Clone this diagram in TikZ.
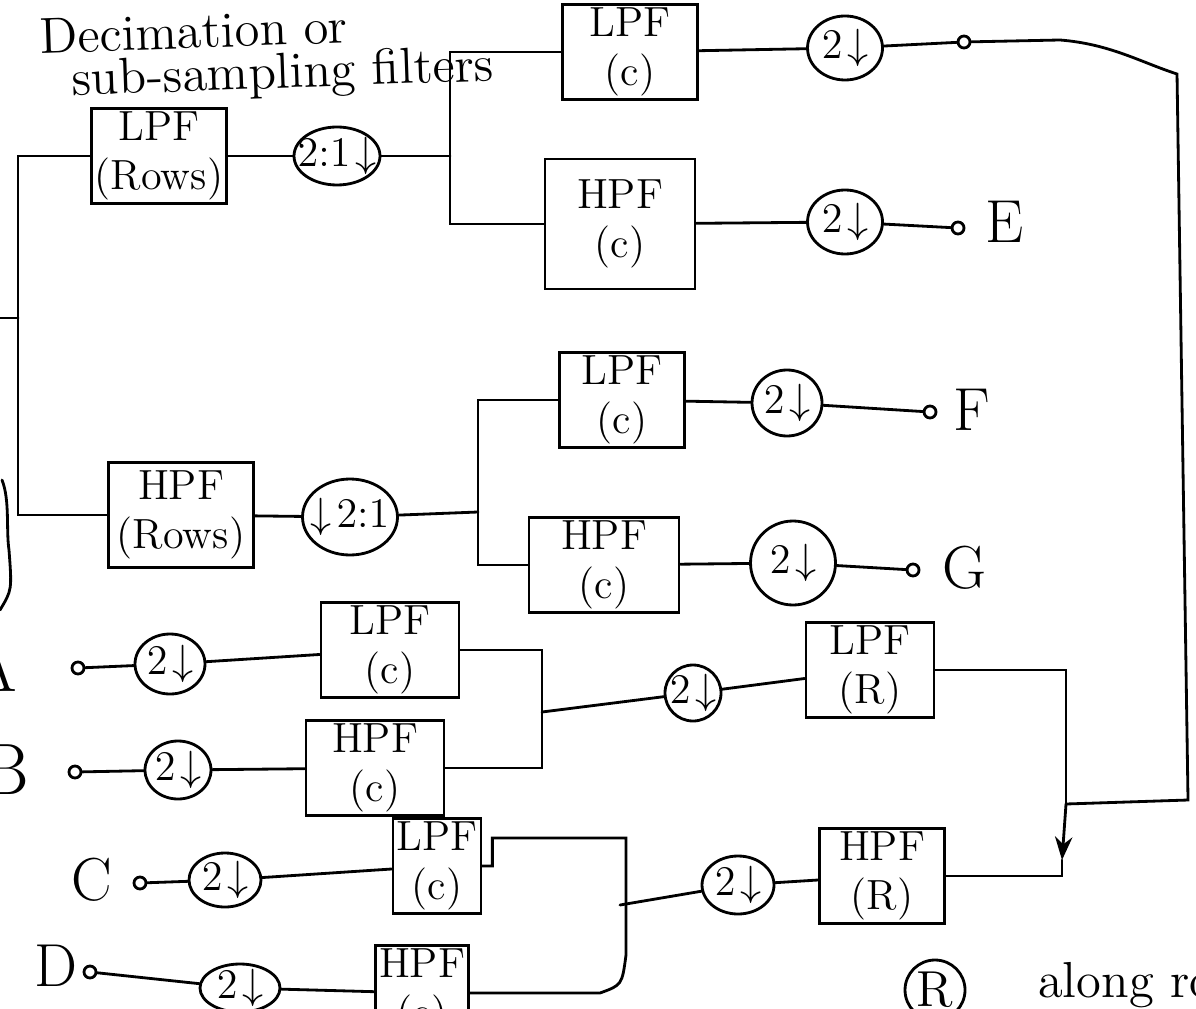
\documentclass[tikz,border=0pt]{standalone}
\usetikzlibrary{arrows.meta}
\usetikzlibrary{shapes.geometric}

\begin{document}
\begin{tikzpicture}[thick, line cap=round,
        filt/.style={draw, align=center, inner sep=1pt, font=\large},
        dec/.style={draw, ellipse, inner sep=-3pt, font=\large},
        term/.style={draw, circle, inner sep=0pt, minimum size=0.12cm},
        lab/.style={font=\LARGE}]
        \useasboundingbox (0,0) rectangle (11.96,-10.08);
        \node [font=\Large, rotate=2, align=left, inner sep=0pt] (title) at (2.67,-0.55) {Decimation or\\[-0.4em]\hspace{0.6em}sub-sampling filters};
        \node [filt, minimum width=1.27cm, minimum height=0.92cm] (lpfrows) at (1.59,-1.56) {LPF\\(Rows)};
        \node [dec, minimum width=0.86cm, minimum height=0.58cm] (dtop) at (3.37,-1.56) {$2{:}1\!\downarrow$};
        \node [filt, minimum width=1.35cm, minimum height=0.95cm] (lpfca) at (6.30,-0.52) {LPF\\(c)};
        \node [filt, minimum width=1.50cm, minimum height=1.30cm] (hpfca) at (6.20,-2.24) {HPF\\(c)};
        \node [dec, minimum width=0.75cm, minimum height=0.64cm] (da) at (8.45,-0.48) {$2\!\downarrow$};
        \node [dec, minimum width=0.75cm, minimum height=0.64cm] (db) at (8.45,-2.22) {$2\!\downarrow$};
        \node [term] (ta) at (9.64,-0.42) {};
        \node [term] (tb) at (9.58,-2.28) {};
        \node [lab] (le) at (10.05,-2.22) {E};
        \node [filt, minimum width=1.45cm, minimum height=1.05cm] (hpfrows) at (1.81,-5.15) {HPF\\(Rows)};
        \node [dec, minimum width=0.95cm, minimum height=0.76cm] (dmid) at (3.50,-5.17) {$\downarrow\!2{:}1$};
        \node [filt, minimum width=1.25cm, minimum height=0.90cm] (lpfcb) at (6.22,-4.00) {LPF\\(c)};
        \node [filt, minimum width=1.50cm, minimum height=0.90cm] (hpfcb) at (6.04,-5.65) {HPF\\(c)};
        \node [dec, minimum width=0.70cm, minimum height=0.66cm] (dc) at (7.87,-4.03) {$2\!\downarrow$};
        \node [dec, minimum width=0.85cm, minimum height=0.84cm] (dd) at (7.93,-5.63) {$2\!\downarrow$};
        \node [term] (tc) at (9.30,-4.12) {};
        \node [term] (td) at (9.13,-5.70) {};
        \node [lab] (lf) at (9.72,-4.10) {F};
        \node [lab] (lg) at (9.65,-5.68) {G};
        \coordinate (sa) at (4.50,-1.56);
        \coordinate (sb) at (4.78,-5.12);
        \coordinate (in) at (0.18,-3.18);
        \coordinate (inl) at (0,-3.18);
        \draw (inl) -- (in);
        \draw (lpfrows.west) -| (in) |- (hpfrows.west);
        \draw (lpfrows) -- (dtop) -- (sa);
        \draw (lpfca.west) -| (sa) |- (hpfca.west);
        \draw (lpfca) -- (da) -- (ta);
        \draw (hpfca) -- (db) -- (tb);
        \draw (hpfrows) -- (dmid) -- (sb);
        \draw (lpfcb.west) -| (sb) |- (hpfcb.west);
        \draw (lpfcb) -- (dc) -- (tc);
        \draw (hpfcb) -- (dd) -- (td);
        \draw (0.02,-4.80) .. controls (0.10,-5.00) and (0.06,-5.30) .. (0.09,-5.50) .. controls (0.12,-5.90) .. (0,-6.10);
        \node [font=\huge] (la) at (-0.08,-6.66) {A};
        \node [term] (tA) at (0.78,-6.68) {};
        \node [dec, minimum width=0.70cm, minimum height=0.60cm] (de) at (1.70,-6.64) {$2\!\downarrow$};
        \node [filt, minimum width=1.38cm, minimum height=0.82cm] (lpfcc) at (3.90,-6.50) {LPF\\(c)};
        \node [font=\huge] (lb) at (0.05,-7.70) {B};
        \node [term] (tB) at (0.75,-7.72) {};
        \node [dec, minimum width=0.66cm, minimum height=0.58cm] (df) at (1.78,-7.70) {$2\!\downarrow$};
        \node [filt, minimum width=1.38cm, minimum height=0.92cm] (hpfcc) at (3.75,-7.68) {HPF\\(c)};
        \node [dec, minimum width=0.56cm, minimum height=0.56cm] (dg) at (6.93,-6.93) {$2\!\downarrow$};
        \node [filt, minimum width=1.28cm, minimum height=0.88cm] (lpfrc) at (8.70,-6.70) {LPF\\(R)};
        \node [lab] (lc) at (0.92,-8.80) {C};
        \node [term] (tC) at (1.40,-8.83) {};
        \node [dec, minimum width=0.72cm, minimum height=0.54cm] (dh) at (2.25,-8.80) {$2\!\downarrow$};
        \node [filt, minimum width=0.82cm, minimum height=0.78cm] (lpfcd) at (4.37,-8.66) {LPF\\(c)};
        \node [lab] (ld) at (0.56,-9.66) {D};
        \node [term] (tD) at (0.90,-9.72) {};
        \node [dec, minimum width=0.80cm, minimum height=0.48cm] (di) at (2.40,-9.88) {$2\!\downarrow$};
        \node [filt, minimum width=0.92cm, minimum height=0.90cm] (hpfcd) at (4.22,-9.93) {HPF\\(c)};
        \node [dec, minimum width=0.72cm, minimum height=0.58cm] (dj) at (7.38,-8.85) {$2\!\downarrow$};
        \node [filt, minimum width=1.25cm, minimum height=0.85cm] (hpfrd) at (8.82,-8.76) {HPF\\(R)};
        \coordinate (sc) at (5.42,-7.12);
        \coordinate (sd) at (6.20,-9.05);
        \coordinate (sdt) at (6.26,-8.38);
        \coordinate (sdb) at (6.00,-9.93);
        \coordinate (jn) at (10.66,-8.04);
        \coordinate (aw) at (10.62,-8.60);
        \draw (tA) -- (de) -- (lpfcc);
        \draw (tB) -- (df) -- (hpfcc);
        \draw (lpfcc.east) -| (sc) |- (hpfcc.east);
        \draw (sc) -- (dg) -- (lpfrc);
        \draw (tC) -- (dh) -- (lpfcd);
        \draw (tD) -- (di) -- (hpfcd);
        \draw (lpfcd.east) -- ++(0.1,0) |- (sdt) -- (6.26,-9.55) .. controls (6.22,-9.85) .. (sdb) -- (hpfcd.east);
        \draw (sd) -- (dj) -- (hpfrd);
        \draw (lpfrc.east) -| (jn);
        \draw [-{Stealth}] (jn) -- (aw);
        \draw (aw) |- (hpfrd.east);
        \draw (ta) -- (10.60,-0.40) .. controls (11.10,-0.44) and (11.40,-0.62) .. (11.77,-0.74) -- (11.88,-8.00) -- (jn);
        \node [draw, circle, font=\Large, minimum size=0.60cm, inner sep=0pt] (rkey) at (9.35,-9.90) {R};
        \node [font=\Large, anchor=west] (rtext) at (10.25,-9.85) {along rows};
      \end{tikzpicture}
\end{document}
